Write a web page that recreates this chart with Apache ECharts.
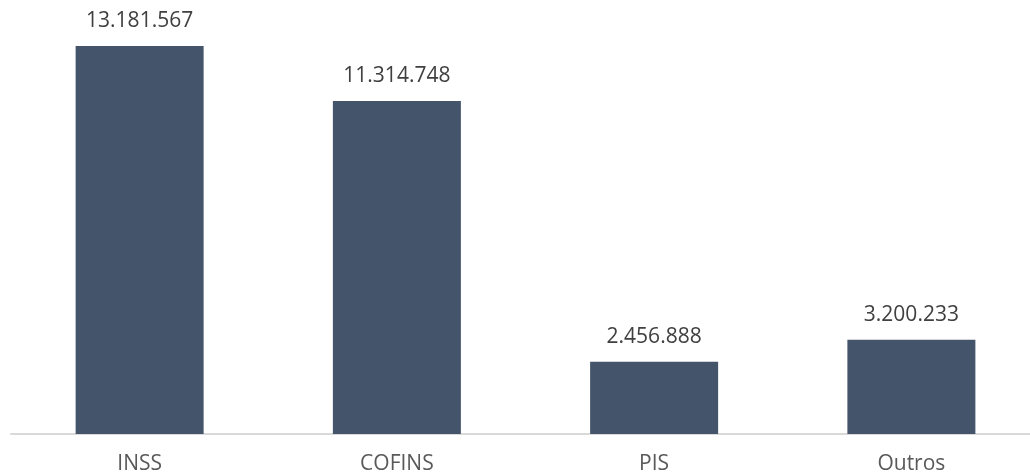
<!DOCTYPE html>
<html>
<head>
<meta charset="utf-8">
<script src="https://cdn.jsdelivr.net/npm/echarts@6/dist/echarts.min.js"></script>
<style>html,body{margin:0;padding:0;background:#fff}#c{width:1030px;height:476px}</style>
</head>
<body>
<div id="c"></div>
<script>
var categories = ['INSS', 'COFINS', 'PIS', 'Outros'];
var values = [13181567, 11314748, 2456888, 3200233];

function fmt(v) {
  return String(v).replace(/\B(?=(\d{3})+(?!\d))/g, '.');
}

var chart = echarts.init(document.getElementById('c'), null, {renderer: 'canvas'});
chart.setOption({
  animation: false,
  grid: {left: 11, right: -10, top: 46, bottom: 42, containLabel: false, outerBoundsMode: 'none'},
  xAxis: {
    type: 'category',
    data: categories,
    axisLine: {lineStyle: {color: '#d9d9d9', width: 2}},
    axisTick: {show: false},
    axisLabel: {color: '#595959', fontFamily: 'Open Sans', fontSize: 21, margin: 20}
  },
  yAxis: {
    type: 'value',
    min: 0,
    max: 'dataMax',
    show: false,
    splitLine: {show: false}
  },
  series: [{
    type: 'bar',
    data: values,
    barWidth: 128,
    itemStyle: {color: '#44546A'},
    label: {
      show: true,
      position: 'top',
      distance: 14,
      color: '#404040',
      fontFamily: 'Open Sans',
      fontSize: 21,
      formatter: function (p) { return fmt(p.value); }
    }
  }]
});
</script>
</body>
</html>
